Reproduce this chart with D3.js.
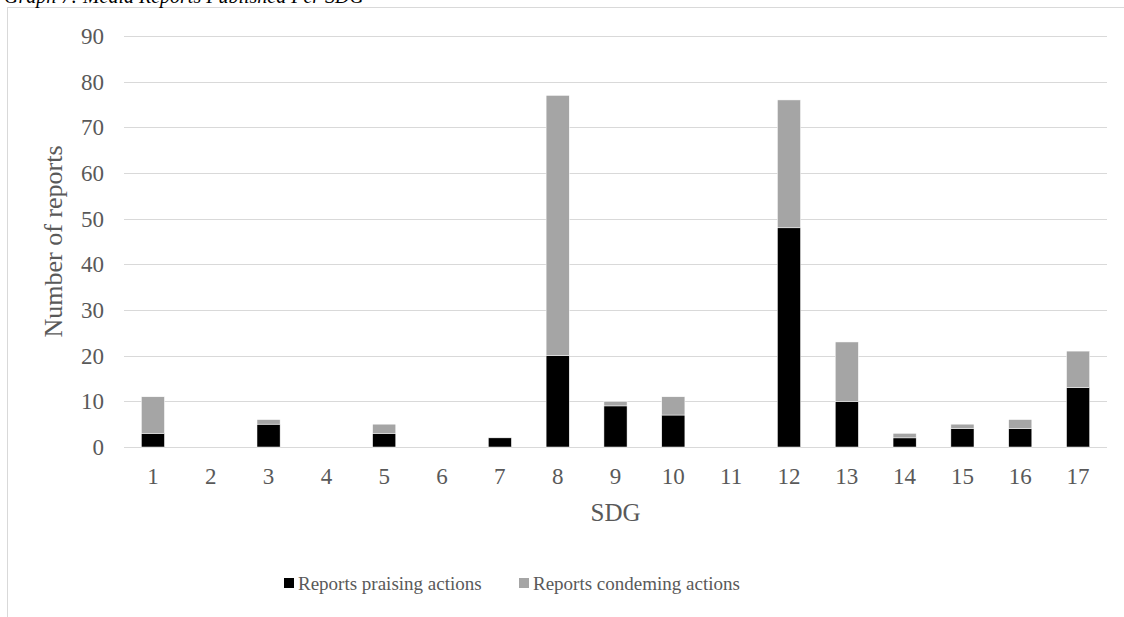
<!DOCTYPE html>
<html>
<head>
<meta charset="utf-8">
<script src="https://cdn.jsdelivr.net/npm/d3@7"></script>
<style>
  html, body { margin: 0; padding: 0; background: #fff; }
  svg { display: block; }
  text { font-family: "Liberation Serif", "Times New Roman", serif; }
</style>
</head>
<body>
<svg id="chart" width="1124" height="617"></svg>
<script>
// SDG categories and report counts
const categories = ["1","2","3","4","5","6","7","8","9","10","11","12","13","14","15","16","17"];
const praising   = [3, 0, 5, 0, 3, 0, 2, 20, 9, 7, 0, 48, 10, 2, 4, 4, 13];
const condemning = [8, 0, 1, 0, 2, 0, 0, 57, 1, 4, 0, 28, 13, 1, 1, 2, 8];
const yTicks = [0, 10, 20, 30, 40, 50, 60, 70, 80, 90];
const seriesNames = ["Reports praising actions", "Reports condeming actions"];
const seriesColors = ["#000000", "#a5a5a5"];

const svg = d3.select("#chart");
const W = 1124, H = 617;

// chart area frame
svg.append("rect").attr("x", 0).attr("y", 0).attr("width", W).attr("height", H).attr("fill", "#ffffff");
svg.append("rect")
  .attr("x", 7.5).attr("y", 7.5).attr("width", W + 10).attr("height", H + 10)
  .attr("fill", "#ffffff").attr("stroke", "#d9d9d9").attr("stroke-width", 1);

// caption above the frame
svg.append("text")
  .attr("x", 4).attr("y", 3)
  .attr("font-size", 20).attr("font-style", "italic").attr("fill", "#000")
  .text("Graph 7: Media Reports Published Per SDG");

const plot = { left: 124, right: 1107, top: 36, bottom: 447 };

const x = d3.scaleBand().domain(categories).range([plot.left, plot.right]).paddingInner(0.6).paddingOuter(0.3);
const y = d3.scaleLinear().domain([0, 90]).range([plot.bottom, plot.top]);

// gridlines
svg.append("g").selectAll("line").data(yTicks).join("line")
  .attr("x1", plot.left).attr("x2", plot.right)
  .attr("y1", d => Math.round(y(d)) + 0.5).attr("y2", d => Math.round(y(d)) + 0.5)
  .attr("stroke", "#d9d9d9").attr("stroke-width", 1);

// stacked bars
const rows = categories.map((c, i) => ({ cat: c, praising: praising[i], condemning: condemning[i] }));
const stack = d3.stack().keys(["praising", "condemning"]);
const layers = stack(rows);

svg.append("g").selectAll("g").data(layers).join("g")
  .attr("fill", (d, i) => seriesColors[i])
  .selectAll("rect").data(d => d.filter(s => s[1] - s[0] > 0)).join("rect")
  .attr("x", d => x(d.data.cat))
  .attr("width", x.bandwidth())
  .attr("y", d => y(d[1]))
  .attr("height", d => y(d[0]) - y(d[1]))
  .attr("stroke", "#ffffff").attr("stroke-width", 0.5);

// y axis tick labels
svg.append("g").selectAll("text").data(yTicks).join("text")
  .attr("x", 104).attr("y", d => y(d)).attr("dy", "0.35em")
  .attr("text-anchor", "end").attr("font-size", 23).attr("fill", "#595959")
  .text(d => d);

// x axis tick labels
svg.append("g").selectAll("text").data(categories).join("text")
  .attr("x", d => x(d) + x.bandwidth() / 2).attr("y", 484)
  .attr("text-anchor", "middle").attr("font-size", 23).attr("fill", "#595959")
  .text(d => d);

// axis titles
svg.append("text")
  .attr("transform", `translate(62, ${(plot.top + plot.bottom) / 2}) rotate(-90)`)
  .attr("text-anchor", "middle").attr("font-size", 26).attr("fill", "#595959")
  .text("Number of reports");

svg.append("text")
  .attr("x", (plot.left + plot.right) / 2).attr("y", 521)
  .attr("text-anchor", "middle").attr("font-size", 25).attr("fill", "#595959")
  .text("SDG");

// legend
const legendItems = [{ x: 284 }, { x: 519 }];
const legend = svg.append("g");
legendItems.forEach((item, i) => {
  legend.append("rect")
    .attr("x", item.x).attr("y", 578).attr("width", 10).attr("height", 10)
    .attr("fill", seriesColors[i]);
  legend.append("text")
    .attr("x", item.x + 14).attr("y", 590)
    .attr("font-size", 19).attr("fill", "#595959")
    .text(seriesNames[i]);
});
</script>
</body>
</html>
